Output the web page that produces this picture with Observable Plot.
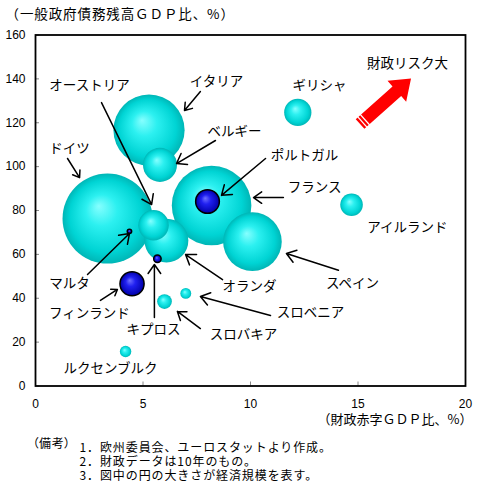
<!DOCTYPE html>
<html><head><meta charset="utf-8">
<script src="https://cdn.jsdelivr.net/npm/d3@7"></script>
<script src="https://cdn.jsdelivr.net/npm/@observablehq/plot@0.6"></script>
<style>body{margin:0;background:#fff;}</style>
</head><body><div id="chart"></div>
<script>
// ---- data ----
const countries = ["ドイツ","フランス","イタリア","スペイン","オランダ","ベルギー","オーストリア","ギリシャ","フィンランド","ポルトガル","アイルランド","スロバキア","ルクセンブルク","スロベニア","キプロス","マルタ"];
const deficit   = [3.35, 8.19, 5.28, 10.09, 6.09, 5.79, 5.49, 12.2, 4.49, 8.0, 14.7, 6.0, 4.19, 6.99, 5.67, 4.37];
const debt      = [76.3, 82.3, 116.6, 65.8, 66.3, 100.8, 73.3, 124.7, 46.6, 84.1, 82.6, 38.5, 15.7, 42.2, 58.0, 70.5];
const gdpSize   = [2477, 1936, 1549, 1051, 588, 355, 284, 227, 178, 172, 156, 66, 40, 36, 17, 6];
const blueGroup = ["ポルトガル","フィンランド","キプロス","マルタ"];

const xTicks = [0, 5, 10, 15, 20];
const yTicks = [0, 20, 40, 60, 80, 100, 120, 140, 160];

const labelText = ["財政リスク大","ギリシャ","イタリア","オーストリア","ベルギー","ドイツ","ポルトガル","フランス","アイルランド","スペイン","オランダ","スロベニア","スロバキア","キプロス","マルタ","フィンランド","ルクセンブルク"];
const labelX    = [17.30, 13.21, 8.42, 2.51, 9.26, 1.58, 12.51, 12.98, 17.30, 14.74, 9.95, 12.79, 9.67, 5.49, 1.58, 2.51, 3.49];
const labelY    = [147.0, 137.0, 138.8, 137.0, 116.0, 108.2, 105.2, 90.3, 72.0, 46.7, 45.1, 33.3, 23.5, 25.8, 46.7, 33.0, 7.7];

// annotation arrows: from label toward bubble
const arrowX1 = [7.67, 3.07, 8.37, 1.49, 10.70, 11.53, 14.09, 8.70, 10.93, 7.67, 5.53, 2.42, 3.02];
const arrowY1 = [134.2, 129.2, 111.9, 103.7, 103.7, 85.9, 52.8, 48.5, 32.1, 26.2, 31.2, 50.8, 39.0];
const arrowX2 = [6.93, 5.40, 6.56, 2.05, 8.65, 10.14, 11.67, 6.98, 7.67, 6.60, 5.53, 4.37, 3.81];
const arrowY2 = [125.6, 82.7, 101.4, 95.0, 86.9, 85.9, 60.4, 59.9, 40.8, 34.0, 55.4, 69.5, 44.0];

// "財政リスク大" block arrow (tail -> tip)
const riskX = [15.12, 17.49];
const riskY = [119.2, 139.9];

const yTitle = "（一般政府債務残高ＧＤＰ比、%）";
const xTitle = "（財政赤字ＧＤＰ比、%）";
const noteHead = "（備考）";
const noteLines = ["1．欧州委員会、ユーロスタットより作成。","2．財政データは10年のもの。","3．図中の円の大きさが経済規模を表す。"];

// ---- tables ----
const bubbles = countries.map((c, i) => ({name: c, x: deficit[i], y: debt[i], gdp: gdpSize[i], blue: blueGroup.includes(c)}))
  .sort((a, b) => b.gdp - a.gdp);
const labels = labelText.map((t, i) => ({t, x: labelX[i], y: labelY[i]}));
const arrows = arrowX1.map((_, i) => ({x1: arrowX1[i], y1: arrowY1[i], x2: arrowX2[i], y2: arrowY2[i]}));

const JP = "'Noto Sans CJK JP', 'Noto Sans', sans-serif";

function defsMark() {
  const defs = d3.create("svg:defs");
  const gc = defs.append("radialGradient").attr("id", "gc")
    .attr("cx", "50%").attr("cy", "50%").attr("r", "50%").attr("fx", "40%").attr("fy", "36%");
  [["0%", "#86ffff"], ["35%", "#2cf0f0"], ["80%", "#00d4d4"], ["100%", "#00b6b6"]]
    .forEach(([o, c]) => gc.append("stop").attr("offset", o).attr("stop-color", c));
  const gb = defs.append("radialGradient").attr("id", "gb")
    .attr("cx", "50%").attr("cy", "50%").attr("r", "50%").attr("fx", "40%").attr("fy", "36%");
  [["0%", "#7070ff"], ["40%", "#2020f0"], ["100%", "#0000a8"]]
    .forEach(([o, c]) => gb.append("stop").attr("offset", o).attr("stop-color", c));
  return defs.node();
}

function riskArrowMark(index, scales) {
  const ax = scales.x(riskX[0]), ay = scales.y(riskY[0]);
  const bx = scales.x(riskX[1]), by = scales.y(riskY[1]);
  const len = Math.hypot(bx - ax, by - ay);
  const ux = (bx - ax) / len, uy = (by - ay) / len;
  const nx = -uy, ny = ux;
  const hw = 6.5, HW = 14, HL = 19;
  const cx = bx - ux * HL, cy = by - uy * HL;
  const pts = [
    [ax + nx * hw, ay + ny * hw], [cx + nx * hw, cy + ny * hw], [cx + nx * HW, cy + ny * HW],
    [bx, by],
    [cx - nx * HW, cy - ny * HW], [cx - nx * hw, cy - ny * hw], [ax - nx * hw, ay - ny * hw]
  ];
  const g = d3.create("svg:g");
  g.append("path").attr("d", "M" + pts.map(p => p.join(",")).join("L") + "Z").attr("fill", "#ff0000");
  [3, 6.5].forEach(t => {
    const px = ax + ux * t, py = ay + uy * t;
    g.append("line")
      .attr("x1", px + nx * (hw + 1)).attr("y1", py + ny * (hw + 1))
      .attr("x2", px - nx * (hw + 1)).attr("y2", py - ny * (hw + 1))
      .attr("stroke", "#fff").attr("stroke-width", 1.3);
  });
  return g.node();
}

const chart = Plot.plot({
  width: 477,
  height: 488,
  marginLeft: 35,
  marginRight: 12,
  marginTop: 34.5,
  marginBottom: 102.5,
  x: {domain: [0, 20]},
  y: {domain: [0, 160]},
  r: {type: "sqrt", domain: [0, 2477], range: [0, 45]},
  marks: [
    defsMark,
    Plot.axisX(xTicks, {tickSize: -4, tickPadding: 17.5, stroke: "#888", fill: "black", fontSize: 12, fontFamily: "'Liberation Sans', Arial, sans-serif", label: null}),
    Plot.axisY(yTicks, {tickSize: -4, tickPadding: 14, stroke: "#888", fill: "black", fontSize: 12, fontFamily: "'Liberation Sans', Arial, sans-serif", label: null}),
    Plot.dot(bubbles.filter(d => !d.blue), {x: "x", y: "y", r: "gdp", fill: "url(#gc)", stroke: "none"}),
    Plot.dot(bubbles.filter(d => d.blue), {x: "x", y: "y", r: "gdp", fill: "url(#gb)", stroke: "black", strokeWidth: 1.5}),
    Plot.arrow(arrows, {x1: "x1", y1: "y1", x2: "x2", y2: "y2", stroke: "black", strokeWidth: 1.5, headLength: 11, headAngle: 70}),
    riskArrowMark,
    Plot.text(labels, {x: "x", y: "y", text: "t", fontSize: 13.5, fontFamily: JP, fill: "black"}),
    Plot.frame({stroke: "black", strokeWidth: 1.8}),
    Plot.text([yTitle], {text: d => d, frameAnchor: "top-left", dx: -30, dy: -25.5, textAnchor: "start", fontSize: 13.5, fontFamily: JP}),
    Plot.text([xTitle], {text: d => d, frameAnchor: "bottom-right", dx: 7, dy: 37.5, textAnchor: "end", fontSize: 13, fontFamily: JP}),
    Plot.text([noteHead], {text: d => d, frameAnchor: "bottom-left", dx: -3, dy: 61.5, textAnchor: "start", fontSize: 12, fontFamily: JP}),
    Plot.text([noteLines.join("\n")], {text: d => d, frameAnchor: "bottom-left", dx: 44, dy: 75.5, textAnchor: "start", lineAnchor: "middle", lineHeight: 14 / 12, fontSize: 12, fontFamily: JP})
  ]
});
document.getElementById("chart").appendChild(chart);
const s = d3.select(chart);
const texts = s.selectAll("text");
texts.filter(function () { return this.textContent === yTitle; }).style("letter-spacing", "0.9px");
texts.filter(function () { return this.textContent === noteHead; })
  .style("font-feature-settings", "'palt'").style("letter-spacing", "0.6px");
texts.filter(function () { return this.textContent.includes("欧州委員会"); })
  .style("letter-spacing", "0.9px");
</script>
</body></html>
